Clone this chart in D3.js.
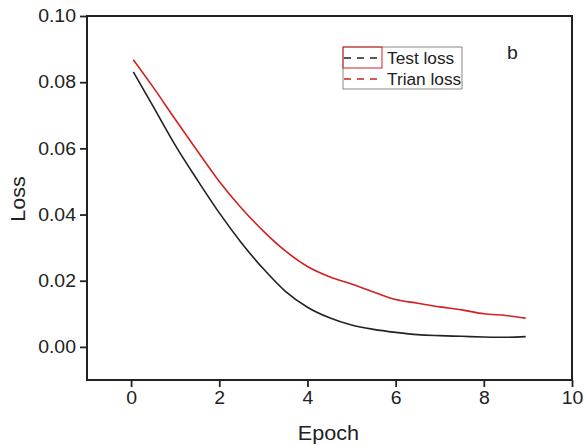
<!DOCTYPE html>
<html><head><meta charset="utf-8">
<script src="https://cdn.jsdelivr.net/npm/d3@7"></script>
<style>
html,body{margin:0;padding:0;background:#fff;}
text{font-family:"Liberation Sans",Arial,sans-serif;fill:#222;}
</style></head>
<body>
<svg id="chart" width="585" height="445"></svg>
<script>
const epochs = [0.05, 0.5, 1.0, 1.5, 2.0, 2.5, 3.0, 3.5, 4.0, 4.5, 5.0, 5.5, 6.0, 6.5, 7.0, 7.5, 8.0, 8.5, 8.95];
const testLoss = [0.0831, 0.0727, 0.0610, 0.0505, 0.0405, 0.0315, 0.0236, 0.0168, 0.0120, 0.0088, 0.0066, 0.0053, 0.0044, 0.0037, 0.0034, 0.0032, 0.0030, 0.0029, 0.0031];
const trainLoss = [0.0868, 0.0785, 0.0688, 0.0593, 0.0500, 0.0420, 0.0350, 0.0290, 0.0243, 0.0212, 0.0190, 0.0166, 0.0143, 0.0132, 0.0121, 0.0112, 0.0100, 0.0095, 0.0087];
const xTicks = [0, 2, 4, 6, 8, 10];
const yTicks = [0.00, 0.02, 0.04, 0.06, 0.08, 0.10];
const legendLabels = ["Test loss", "Trian loss"];
const seriesColors = ["#222222", "#d42020"];

const svg = d3.select("#chart");
const L = 87, R = 572, T = 16, B = 380;
const x = d3.scaleLinear().domain([-1, 10]).range([L, R]);
const y = d3.scaleLinear().domain([-0.01, 0.10]).range([B, T]);

svg.append("rect").attr("x", L).attr("y", T).attr("width", R - L).attr("height", B - T)
  .attr("fill", "none").attr("stroke", "#222").attr("stroke-width", 2);

const xAxis = svg.append("g").attr("transform", `translate(0,${B})`)
  .call(d3.axisBottom(x).tickValues(xTicks).tickFormat(d3.format("d")).tickSize(7).tickPadding(4));
const yAxis = svg.append("g").attr("transform", `translate(${L},0)`)
  .call(d3.axisLeft(y).tickValues(yTicks).tickFormat(d3.format(".2f")).tickSize(7).tickPadding(4));
[xAxis, yAxis].forEach(g => {
  g.select(".domain").remove();
  g.selectAll(".tick line").attr("stroke", "#222").attr("stroke-width", 1.8);
  g.selectAll(".tick text").style("font-size", "18px").attr("fill", "#222")
    .style("font-family", "'Liberation Sans', Arial, sans-serif");
});

const line = d3.line().x(d => x(d[0])).y(d => y(d[1])).curve(d3.curveMonotoneX);
[testLoss, trainLoss].forEach((vals, i) => {
  svg.append("path").datum(epochs.map((e, j) => [e, vals[j]]))
    .attr("d", line).attr("fill", "none").attr("stroke", seriesColors[i]).attr("stroke-width", 1.6);
});

svg.append("text").attr("x", (L + R) / 2 - 1).attr("y", 440).attr("text-anchor", "middle")
  .style("font-size", "20px").text("Epoch");
svg.append("text").attr("transform", "translate(25,199) rotate(-90)").attr("text-anchor", "middle")
  .style("font-size", "20px").text("Loss");

const lg = svg.append("g");
lg.append("rect").attr("x", 343).attr("y", 47).attr("width", 119).attr("height", 42)
  .attr("fill", "#fff").attr("stroke", "#888").attr("stroke-width", 1);
legendLabels.forEach((lab, i) => {
  const yy = 58 + i * 21;
  lg.append("line").attr("x1", 344).attr("x2", 382).attr("y1", yy).attr("y2", yy)
    .attr("stroke", seriesColors[i]).attr("stroke-width", 1.6).attr("stroke-dasharray", "7,6");
  lg.append("text").attr("x", 387).attr("y", yy + 5.5).style("font-size", "16px").text(lab);
});
lg.append("rect").attr("x", 343).attr("y", 47).attr("width", 39).attr("height", 21)
  .attr("fill", "none").attr("stroke", "#d42020").attr("stroke-width", 1);

svg.append("text").attr("x", 507).attr("y", 59).style("font-size", "18px").text("b");

// horizontal stretch of all text, as in the reference
svg.selectAll("text").each(function() {
  const w = this.getComputedTextLength();
  d3.select(this).attr("textLength", w * 1.08).attr("lengthAdjust", "spacingAndGlyphs");
});
</script>
</body></html>
